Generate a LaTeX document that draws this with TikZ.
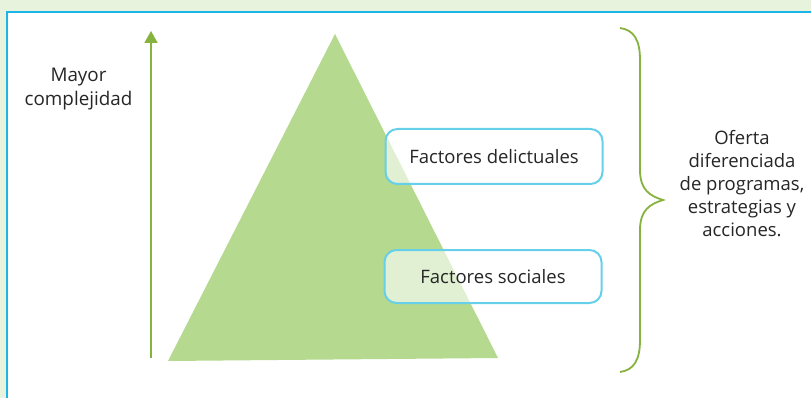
\documentclass[tikz,border=0pt]{standalone}
\usepackage{fontspec}
\setmainfont{Open Sans}
\usetikzlibrary{arrows.meta}
\definecolor{bgg}{HTML}{E7F3DC}
\definecolor{frameblue}{HTML}{1BB5E8}
\definecolor{boxblue}{HTML}{66CFEA}
\definecolor{trig}{HTML}{B5D98F}
\definecolor{linegreen}{HTML}{86B33E}
\tikzset{
  lbl/.style={font=\fontsize{18.5}{23}\selectfont, text=black!85, align=center, inner sep=0pt},
  factorbox/.style={draw=boxblue, line width=2pt, rounded corners=12pt, fill=white, fill opacity=0.6, text opacity=1, minimum height=55pt, minimum width=217pt, font=\fontsize{18.5}{22}\selectfont, text=black!85},
}
\begin{document}
\begin{tikzpicture}[x=1pt,y=-1pt]
\useasboundingbox (0,0) rectangle (811,398);
\fill[bgg] (0,0) rectangle (811,398);
\fill[white] (7,12) rectangle (813,400);
\draw[frameblue, line width=2pt] (7,400) -- (7,12) -- (813,12);
% triangle
\fill[trig] (335,34) -- (498,358) -- (168,361) -- cycle;
% arrow
\coordinate (abot) at (151,358);
\coordinate (atop) at (151,31);
\draw[linegreen, line width=1.8pt, -{Triangle[length=12pt,width=13pt]}] (abot) -- (atop);
\node[lbl, font=\fontsize{18.8}{24.5}\selectfont] (mayor) at (78.5,89) {Mayor\\complejidad};
% boxes
\node[factorbox] (delict) at (494,156.5) {Factores delictuales};
\node[factorbox, minimum height=53pt] (social) at (493,276.5) {Factores sociales};
% brace
\coordinate (btop) at (620,28);
\coordinate (bmid) at (663,200);
\coordinate (bbot) at (620,372);
\draw[linegreen, line width=1.8pt]
  (btop) .. controls (634,30) and (640,40) .. (640,60)
  -- (640,170) .. controls (640,190) and (650,196) .. (bmid)
  .. controls (650,204) and (640,210) .. (640,230)
  -- (640,340) .. controls (640,360) and (634,370) .. (bbot);
\node[lbl] (oferta) at (742,184) {Oferta\\diferenciada\\de programas,\\estrategias y\\acciones.};
\end{tikzpicture}
\end{document}
